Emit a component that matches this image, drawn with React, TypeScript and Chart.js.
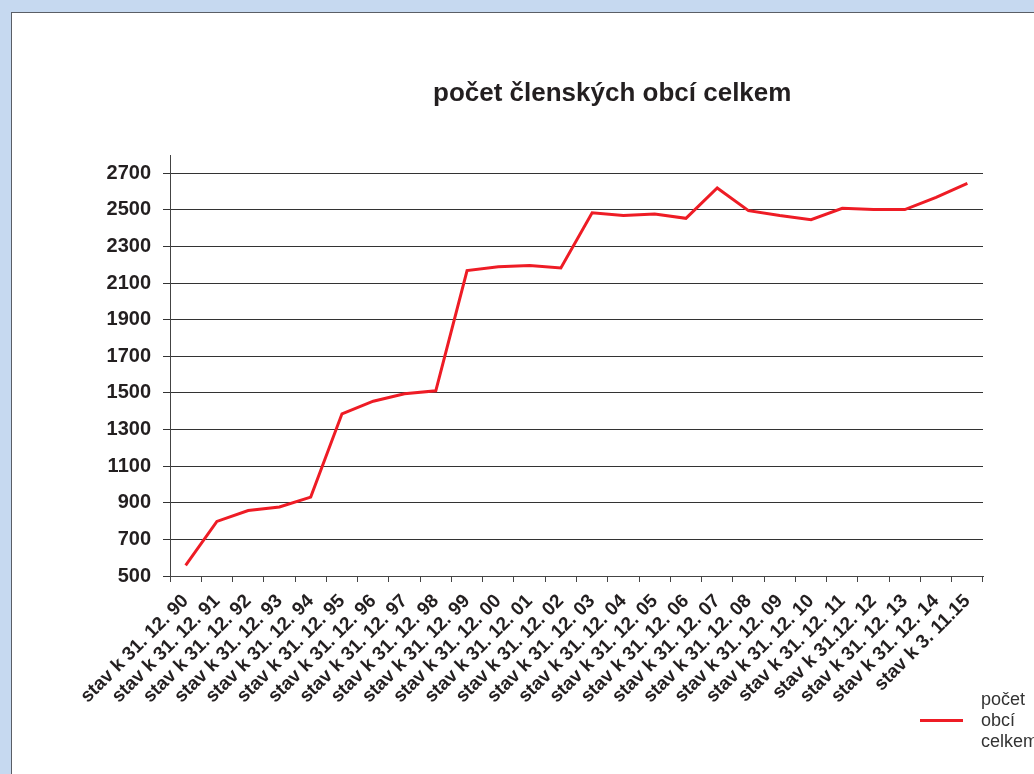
import React, { useEffect, useRef } from "react";
import { Chart, registerables } from "chart.js";

Chart.register(...registerables);

const categories: string[] = [
  "stav k 31. 12. 90",
  "stav k 31. 12. 91",
  "stav k 31. 12. 92",
  "stav k 31. 12. 93",
  "stav k 31. 12. 94",
  "stav k 31. 12. 95",
  "stav k 31. 12. 96",
  "stav k 31. 12. 97",
  "stav k 31. 12. 98",
  "stav k 31. 12. 99",
  "stav k 31. 12. 00",
  "stav k 31. 12. 01",
  "stav k 31. 12. 02",
  "stav k 31. 12. 03",
  "stav k 31. 12. 04",
  "stav k 31. 12. 05",
  "stav k 31. 12. 06",
  "stav k 31. 12. 07",
  "stav k 31. 12. 08",
  "stav k 31. 12. 09",
  "stav k 31. 12. 10",
  "stav k 31. 12. 11",
  "stav k 31.12. 12",
  "stav k 31. 12. 13",
  "stav k 31. 12. 14",
  "stav k 3. 11.15",
];

const obceCelkem: number[] = [
  558, 798, 858, 877, 931, 1386, 1455, 1496, 1512, 2169, 2190, 2196, 2183,
  2484, 2469, 2478, 2454, 2620, 2496, 2469, 2447, 2509, 2502, 2502, 2569, 2645,
];

const yTickValues: number[] = [500, 700, 900, 1100, 1300, 1500, 1700, 1900, 2100, 2300, 2500, 2700];

const seriesName = "počet obcí celkem";
const chartTitle = "počet členských obcí celkem";
const yMin = 500;
const yMax = 2800;

const FONT = "'Liberation Sans', Arial, sans-serif";

export default function App() {
  const canvasRef = useRef<HTMLCanvasElement | null>(null);

  useEffect(() => {
    if (!canvasRef.current) return;
    const chart = new Chart(canvasRef.current, {
      type: "line",
      data: {
        labels: categories,
        datasets: [
          {
            label: seriesName,
            data: obceCelkem,
            borderColor: "#ee1c25",
            backgroundColor: "#ee1c25",
            borderWidth: 3,
            pointRadius: 0,
            tension: 0,
          },
        ],
      },
      options: {
        animation: false,
        responsive: false,
        layout: { padding: { left: 0, top: 155, right: 51, bottom: 0 } },
        plugins: {
          legend: { display: false },
          title: { display: false },
          tooltip: { enabled: false },
        },
        scales: {
          x: {
            offset: true,
            afterFit: (scale: any) => {
              scale.height = 198;
            },
            grid: {
              display: true,
              offset: true,
              drawOnChartArea: false,
              drawTicks: true,
              tickLength: 6,
              color: "#444",
              lineWidth: 1,
            },
            border: { display: true, color: "#444", width: 1 },
            ticks: {
              minRotation: 45,
              maxRotation: 45,
              autoSkip: false,
              padding: 8,
              color: "#231f20",
              font: { family: FONT, size: 19, weight: "bold" },
            },
          },
          y: {
            min: yMin,
            max: yMax,
            afterBuildTicks: (scale: any) => {
              scale.ticks = yTickValues.map((v) => ({ value: v }));
            },
            afterFit: (scale: any) => {
              scale.width = 170;
            },
            grid: {
              color: "#333",
              lineWidth: 1,
              drawTicks: true,
              tickLength: 7,
            },
            border: { display: true, color: "#444", width: 1 },
            ticks: {
              padding: 12,
              color: "#231f20",
              font: { family: FONT, size: 20, weight: "bold" },
              callback: (v: any) => String(v),
            },
          },
        },
      },
    });
    return () => chart.destroy();
  }, []);

  return (
    <div
      style={{
        position: "fixed",
        left: 0,
        top: 0,
        width: 1034,
        height: 774,
        background: "#c6d9f0",
        overflow: "hidden",
      }}
    >
      <div
        style={{
          position: "absolute",
          left: 11,
          top: 12,
          width: 1100,
          height: 800,
          background: "#ffffff",
          borderLeft: "1.5px solid #5a5e66",
          borderTop: "1.5px solid #5a5e66",
        }}
      />
      <canvas
        ref={canvasRef}
        width={1034}
        height={774}
        style={{ position: "absolute", left: 0, top: 0 }}
      />
      <div
        style={{
          position: "absolute",
          left: 433,
          top: 77,
          fontFamily: FONT,
          fontWeight: "bold",
          fontSize: 26,
          color: "#231f20",
          whiteSpace: "nowrap",
        }}
      >
        {chartTitle}
      </div>
      <div
        style={{
          position: "absolute",
          left: 920,
          top: 719,
          width: 43,
          height: 3,
          background: "#ee1c25",
        }}
      />
      <div
        style={{
          position: "absolute",
          left: 981,
          top: 689,
          width: 80,
          fontFamily: FONT,
          fontSize: 18,
          lineHeight: "21px",
          color: "#333",
        }}
      >
        počet
        <br />
        obcí
        <br />
        celkem
      </div>
    </div>
  );
}
